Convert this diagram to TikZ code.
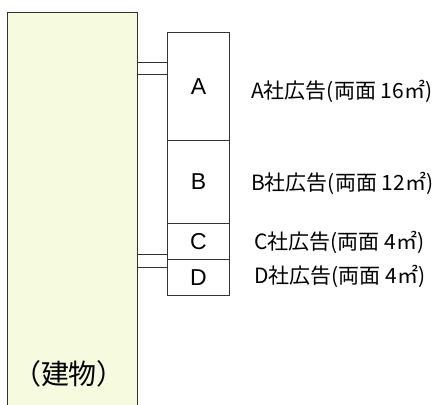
\documentclass[tikz,border=0pt]{standalone}
\usepackage{fontspec}
\setmainfont{Liberation Sans}
\newfontfamily\jp{Noto Sans CJK JP}
\begin{document}
\begin{tikzpicture}[x=1pt,y=-1pt,
  edge/.style={draw=black!80,line width=0.9pt},
  signbox/.style={edge,rectangle,minimum width=62pt,inner sep=0pt,font=\fontsize{23}{23}\selectfont},
  lbl/.style={anchor=west,inner sep=0pt,font=\jp\fontsize{21}{21}\selectfont}]
\useasboundingbox (0,0) rectangle (440,405);
% building
\node[edge,fill={rgb,255:red,246;green,250;blue,222},rectangle,minimum width=130pt,minimum height=420pt,inner sep=0pt,anchor=north west] (bld) at (7,12) {};
\node[inner sep=0pt,font=\jp\fontsize{28}{28}\selectfont] (bl) at (69,374) {（建物）};
% signs
\node[signbox,minimum height=108pt,anchor=north west] (A) at (167,32) {A};
\node[signbox,minimum height=83pt,anchor=north west] (B) at (167,140) {B};
\node[signbox,minimum height=36pt,anchor=north west] (C) at (167,223) {C};
\node[signbox,minimum height=36pt,anchor=north west] (D) at (167,259) {D};
% brackets
\coordinate (u1) at (137,62); \coordinate (u2) at (137,74);
\coordinate (l1) at (137,254); \coordinate (l2) at (137,267);
\draw[edge] (u1) -- (u1 -| A.west);
\draw[edge] (u2) -- (u2 -| A.west);
\draw[edge] (l1) -- (l1 -| C.west);
\draw[edge] (l2) -- (l2 -| D.west);
% labels
\node[lbl] (la) at (251,91) {A社広告(両面 16㎡)};
\node[lbl] (lb) at (251,183) {B社広告(両面 12㎡)};
\node[lbl] (lc) at (254,242) {C社広告(両面 4㎡)};
\node[lbl] (ld) at (254,276) {D社広告(両面 4㎡)};
\end{tikzpicture}
\end{document}
